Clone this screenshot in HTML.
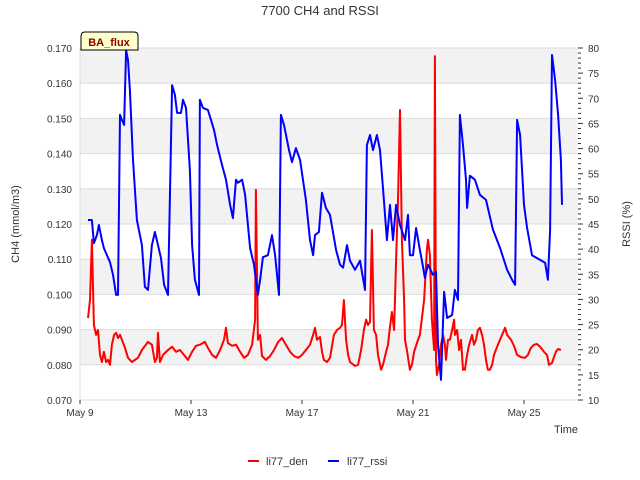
<!DOCTYPE html>
<html><head><meta charset="utf-8"><style>
body{margin:0;background:#fff;}
svg{display:block;font-family:"Liberation Sans","DejaVu Sans",sans-serif;}
</style></head><body>
<svg id="chart" width="640" height="480">
<text x="320" y="15" text-anchor="middle" font-size="13" fill="#333">7700 CH4 and RSSI</text>
<g id="bands"></g><g id="grid"></g><g id="series"></g><g id="axes"></g>
<g><path d="M81,50 L81,36 Q81,32 85,32 L134,32 Q138,32 138,36 L138,50 Z" fill="#ffffcc" stroke="#000" stroke-width="1"/><text x="109" y="46" text-anchor="middle" font-size="11" font-weight="bold" fill="#8b0000">BA_flux</text></g>
<text transform="translate(19,224) rotate(-90)" text-anchor="middle" font-size="11" fill="#333">CH4 (mmol/m3)</text>
<text transform="translate(630,224) rotate(-90)" text-anchor="middle" font-size="11" fill="#333">RSSI (%)</text>
<text x="578" y="433" text-anchor="end" font-size="11" fill="#333">Time</text>
<g><line x1="248" y1="461" x2="259" y2="461" stroke="#f00" stroke-width="2"/><text x="266" y="465" font-size="11" fill="#333">li77_den</text></g>
<g><line x1="328" y1="461" x2="339" y2="461" stroke="#00f" stroke-width="2"/><text x="347" y="465" font-size="11" fill="#333">li77_rssi</text></g>
</svg>
<script>
const xTickLabels=["May 9","May 13","May 17","May 21","May 25"];
const xTickDays=[0,4,8,12,16];
const leftTicks=[0.070,0.080,0.090,0.100,0.110,0.120,0.130,0.140,0.150,0.160,0.170];
const rightTicks=[10,15,20,25,30,35,40,45,50,55,60,65,70,75,80];
const rssiPoints=[[.29,45.8],[.43,45.8],[.50,41.2],[.61,42.8],[.68,44.8],[.79,41.8],[.86,40.2],[.97,38.8],[1.08,37.4],[1.19,34.9],[1.30,30.9],[1.37,30.9],[1.44,66.7],[1.51,65.7],[1.59,64.7],[1.66,79.6],[1.73,77.6],[1.80,71.6],[1.91,57.7],[2.05,45.8],[2.23,40.8],[2.34,32.5],[2.45,31.9],[2.59,40.8],[2.70,43.4],[2.81,40.8],[2.92,38.2],[3.03,32.9],[3.17,30.9],[3.32,72.6],[3.42,70.7],[3.50,67.1],[3.64,67.1],[3.71,69.7],[3.82,68.1],[3.96,55.7],[4.04,40.8],[4.14,33.9],[4.29,30.9],[4.32,69.7],[4.43,68.1],[4.61,67.7],[4.72,65.7],[4.83,63.7],[4.94,60.7],[5.12,56.7],[5.26,53.8],[5.41,48.8],[5.51,46.2],[5.62,53.8],[5.69,53.2],[5.84,53.8],[5.95,50.8],[6.13,40.2],[6.27,36.9],[6.41,30.9],[6.49,33.9],[6.59,38.4],[6.77,38.8],[6.92,42.8],[7.03,38.8],[7.17,30.9],[7.24,66.7],[7.35,64.7],[7.53,59.7],[7.64,57.3],[7.78,60.1],[7.93,57.7],[8.14,49.8],[8.29,41.8],[8.40,38.8],[8.47,42.8],[8.61,43.4],[8.72,51.2],[8.86,48.2],[9.01,46.8],[9.23,39.8],[9.37,36.9],[9.48,36.3],[9.62,40.8],[9.73,37.7],[9.91,35.9],[10.09,37.7],[10.27,31.9],[10.34,60.7],[10.45,62.7],[10.56,59.7],[10.70,62.7],[10.81,59.7],[10.95,49.8],[11.06,41.8],[11.17,48.8],[11.28,41.8],[11.39,48.8],[11.53,44.8],[11.71,41.8],[11.82,46.8],[11.89,38.8],[12.00,38.8],[12.11,44.2],[12.25,39.8],[12.32,37.7],[12.43,34.3],[12.54,36.9],[12.72,34.9],[12.83,35.5],[12.90,21],[13.01,14],[13.12,31.5],[13.23,26.3],[13.41,26.9],[13.51,31.9],[13.62,29.9],[13.69,66.7],[13.80,60.7],[13.91,53.8],[13.95,48.2],[14.05,54.6],[14.23,53.8],[14.41,50.8],[14.63,49.8],[14.88,43.9],[15.14,40.2],[15.39,35.9],[15.57,33.9],[15.68,32.9],[15.75,65.7],[15.86,62.7],[16.00,48.8],[16.11,44.2],[16.29,38.8],[16.76,37.3],[16.86,33.9],[16.94,43.8],[17.01,78.6],[17.12,73.6],[17.23,66.7],[17.33,57.7],[17.37,48.8]];
const ch4Points=[[.29,.0933],[.36,.0984],[.43,.1155],[.50,.0913],[.58,.0885],[.65,.0899],[.72,.0828],[.79,.0808],[.86,.0837],[.94,.0808],[1.01,.0814],[1.08,.0800],[1.15,.0857],[1.23,.0885],[1.30,.0891],[1.37,.0876],[1.44,.0885],[1.51,.0871],[1.62,.0848],[1.73,.0820],[1.87,.0808],[2.09,.0820],[2.23,.0842],[2.45,.0865],[2.59,.0857],[2.70,.0808],[2.77,.0820],[2.81,.0891],[2.88,.0808],[2.99,.0828],[3.17,.0842],[3.32,.0851],[3.46,.0837],[3.60,.0842],[3.78,.0825],[3.89,.0814],[4.04,.0837],[4.18,.0854],[4.32,.0857],[4.50,.0865],[4.61,.0848],[4.76,.0828],[4.90,.0820],[5.05,.0842],[5.19,.0871],[5.26,.0905],[5.33,.0862],[5.48,.0854],[5.62,.0857],[5.77,.0837],[5.91,.0820],[6.05,.0828],[6.20,.0857],[6.31,.0928],[6.34,.1297],[6.41,.0871],[6.49,.0885],[6.56,.0825],[6.70,.0814],[6.85,.0825],[6.99,.0842],[7.14,.0865],[7.28,.0876],[7.42,.0857],[7.57,.0837],[7.71,.0825],[7.86,.0820],[8.00,.0828],[8.14,.0842],[8.29,.0857],[8.40,.0885],[8.47,.0905],[8.54,.0871],[8.65,.0879],[8.72,.0837],[8.79,.0814],[8.90,.0808],[9.01,.0820],[9.15,.0885],[9.26,.0899],[9.37,.0905],[9.44,.0913],[9.51,.0984],[9.59,.0871],[9.66,.0828],[9.73,.0808],[9.91,.0797],[10.02,.0800],[10.13,.0842],[10.23,.0899],[10.31,.0928],[10.38,.0913],[10.45,.0922],[10.52,.1183],[10.59,.0899],[10.67,.0885],[10.74,.0828],[10.85,.0786],[10.92,.0800],[11.03,.0837],[11.10,.0857],[11.17,.0908],[11.24,.0950],[11.32,.0899],[11.39,.1098],[11.46,.1268],[11.53,.1524],[11.60,.1155],[11.68,.0984],[11.71,.0871],[11.78,.0842],[11.89,.0786],[11.96,.0800],[12.04,.0837],[12.18,.0871],[12.25,.0885],[12.40,.0984],[12.50,.1126],[12.54,.1155],[12.61,.1112],[12.68,.0928],[12.76,.0842],[12.79,.1677],[12.83,.0814],[12.86,.0771],[12.94,.0800],[13.01,.0857],[13.08,.0885],[13.15,.0857],[13.19,.0814],[13.26,.0871],[13.33,.0871],[13.41,.0899],[13.48,.0928],[13.51,.0885],[13.59,.0899],[13.66,.0842],[13.73,.0871],[13.80,.0786],[13.87,.0786],[13.95,.0828],[14.02,.0857],[14.13,.0885],[14.20,.0857],[14.27,.0871],[14.34,.0899],[14.41,.0905],[14.49,.0885],[14.56,.0857],[14.63,.0814],[14.70,.0786],[14.77,.0786],[14.85,.0800],[14.92,.0828],[15.06,.0857],[15.21,.0885],[15.32,.0905],[15.39,.0885],[15.53,.0871],[15.64,.0854],[15.75,.0828],[15.89,.0822],[16.04,.0820],[16.14,.0828],[16.25,.0848],[16.36,.0857],[16.47,.0859],[16.58,.0851],[16.72,.0837],[16.83,.0828],[16.90,.0800],[17.01,.0805],[17.08,.0822],[17.15,.0837],[17.23,.0845],[17.33,.0842]];

const L=80,R=578,T=48,B=400;
function xs(d){return L+d*27.75;}
function yl(v){return B-(v-0.07)/0.1*(B-T);}
function yr(v){return B-(v-10)/70*(B-T);}
const NS="http://www.w3.org/2000/svg";
function mk(tag,attrs,parent){const e=document.createElementNS(NS,tag);for(const k in attrs)e.setAttribute(k,attrs[k]);document.getElementById(parent).appendChild(e);return e;}

for(let i=0;i<leftTicks.length-1;i++){
  if((leftTicks.length-2-i)%2===0){
    const r=mk('rect',{x:L,y:yl(leftTicks[i+1]),width:R-L,height:yl(leftTicks[i])-yl(leftTicks[i+1]),fill:'#f2f2f2'},'bands');
    
    
  }
}
leftTicks.forEach(v=>{
  const g=mk('line',{x1:L,x2:R,y1:yl(v),y2:yl(v),stroke:'#dcdcdc','stroke-width':1},'grid');
  
  
  const t=mk('text',{x:L-8,y:yl(v)+4,'text-anchor':'end','font-size':10,fill:'#333'},'axes');
  t.textContent=v.toFixed(3);
  
  
});
rightTicks.forEach(v=>{
  const t=mk('text',{x:R+10,y:yr(v)+4,'font-size':10,fill:'#333'},'axes');
  t.textContent=v;
  
  
});
for(let v=10;v<=80;v++){
  const tk=mk('line',{x1:R,x2:R+(v%5===0?5:3),y1:yr(v),y2:yr(v),stroke:'#333','stroke-width':1},'axes');
  
  
}
xTickDays.forEach((d,i)=>{
  const tk=mk('line',{x1:xs(d),x2:xs(d),y1:B,y2:B+4,stroke:'#333'},'axes');
  
  
  const t=mk('text',{x:xs(d),y:B+16,'text-anchor':'middle','font-size':10,fill:'#333'},'axes');
  t.textContent=xTickLabels[i];
  
  
});
const ax=mk('line',{x1:L,x2:L,y1:T,y2:B,stroke:'#ddd'},'axes');



const red=mk('polyline',{points:ch4Points.map(p=>xs(p[0]).toFixed(1)+','+yl(p[1]).toFixed(1)).join(' '),fill:'none',stroke:'#ff0000','stroke-width':2,'stroke-linejoin':'round'},'series');


const blue=mk('polyline',{points:rssiPoints.map(p=>xs(p[0]).toFixed(1)+','+yr(p[1]).toFixed(1)).join(' '),fill:'none',stroke:'#0000ff','stroke-width':2,'stroke-linejoin':'round'},'series');


</script>
</body></html>
